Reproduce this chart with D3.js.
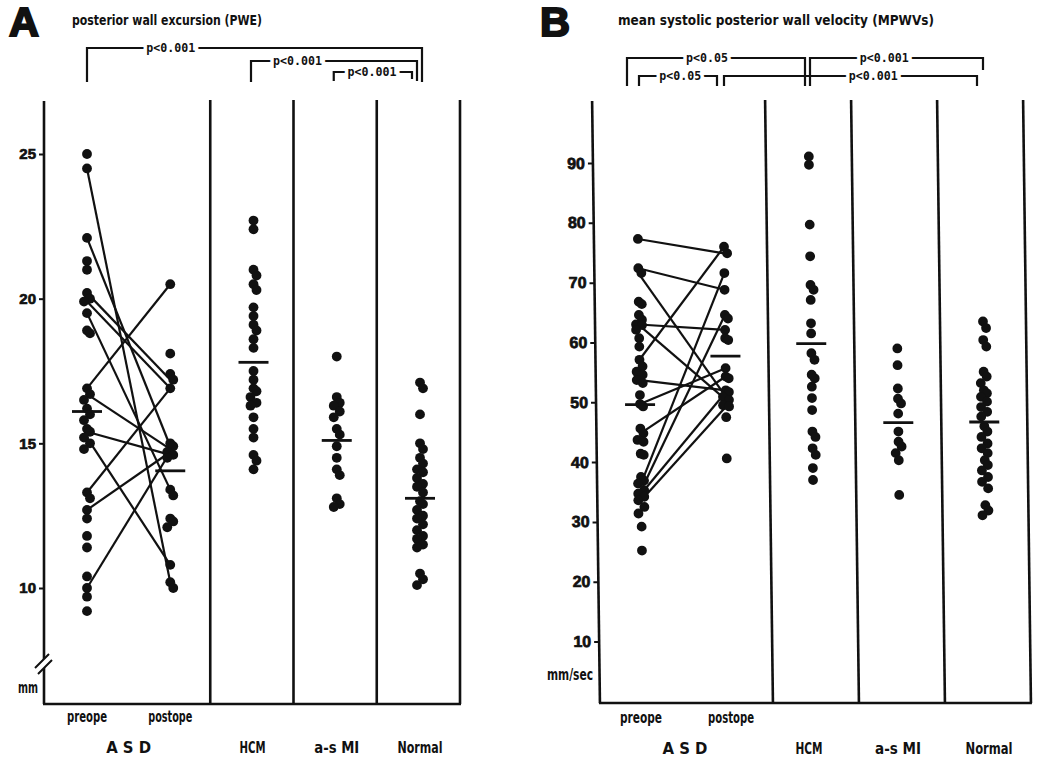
<!DOCTYPE html>
<html>
<head>
<meta charset="utf-8">
<script src="https://cdn.jsdelivr.net/npm/d3@7"></script>
<style>
  body { margin: 0; background: #fff; }
  svg { display: block; }
  .cond { font-family: "DejaVu Sans Condensed", "Liberation Sans Narrow", "DejaVu Sans", sans-serif; font-stretch: condensed; font-weight: bold; }
  .mono { font-family: "DejaVu Sans Mono", "Liberation Mono", monospace; font-weight: bold; }
  .num { font-family: "Liberation Sans", Arial, sans-serif; font-weight: bold; }
</style>
</head>
<body>
<svg id="fig" width="1038" height="757"></svg>
<script>
const groups = ["preope", "postope", "HCM", "a-s MI", "Normal"];

// A: posterior wall excursion (mm)
const pweTicks = [10, 15, 20, 25];
const pwePreope = [25.0, 24.5, 22.1, 21.3, 21.0, 20.2, 20.0, 19.9, 19.5, 18.9, 18.8, 16.9, 16.7, 16.5, 16.2, 16.0,
  15.8, 15.5, 15.4, 15.2, 15.0, 14.8, 13.3, 13.1, 12.7, 12.4, 11.8, 11.4, 10.4, 10.0, 9.7, 9.2];
const pwePostope = [20.5, 18.1, 17.4, 17.2, 16.9, 15.0, 14.9, 14.7, 14.6, 14.5, 13.4, 13.2, 12.4, 12.3, 12.1, 10.8, 10.2, 10.0];
const pweHCM = [22.7, 22.4, 21.0, 20.8, 20.5, 20.3, 19.7, 19.4, 19.1, 18.9, 18.6, 18.3, 17.5, 17.2, 16.9, 16.8,
  16.6, 16.4, 16.3, 15.9, 15.5, 15.2, 14.6, 14.4, 14.1];
const pweMI = [18.0, 16.6, 16.4, 16.3, 16.1, 15.9, 15.5, 15.3, 14.9, 14.5, 14.1, 13.9, 13.1, 12.9, 12.8];
const pweNormal = [17.1, 16.9, 16.0, 15.0, 14.8, 14.5, 14.3, 14.1, 14.0, 13.8, 13.6, 13.5, 13.3, 13.0, 12.9, 12.7,
  12.5, 12.4, 12.2, 12.0, 11.8, 11.7, 11.5, 11.4, 10.5, 10.3, 10.1];
const pweMeans = [16.1, 14.05, 17.8, 15.1, 13.1];
const pwePairs = [[24.5, 10.2], [22.1, 14.9], [20.2, 17.2], [19.9, 16.9], [19.5, 13.4], [16.9, 20.5],
  [16.7, 14.8], [15.4, 14.6], [15.2, 10.8], [13.3, 16.9], [12.7, 14.7], [10.0, 14.7]];

// B: mean systolic posterior wall velocity (mm/sec)
const mpwTicks = [10, 20, 30, 40, 50, 60, 70, 80, 90];
const mpwPreope = [77.3, 72.4, 71.6, 66.8, 66.4, 64.6, 63.8, 63.0, 62.9, 62.1, 60.7, 59.3, 57.1, 56.0, 55.1, 54.6,
  53.7, 53.2, 51.2, 49.7, 49.3, 45.6, 44.8, 43.7, 43.4, 41.4, 41.2, 37.5, 36.9, 36.4, 35.3, 34.7, 34.2, 33.6,
  32.5, 31.4, 29.2, 25.2];
const mpwPostope = [76.0, 74.9, 71.6, 68.8, 64.6, 64.0, 62.1, 60.7, 60.4, 55.7, 54.3, 54.0, 52.0, 51.7, 50.9,
  50.4, 49.5, 49.3, 47.5, 40.6];
const mpwHCM = [91.1, 89.7, 79.7, 74.4, 69.6, 68.8, 67.1, 63.2, 61.5, 58.2, 57.1, 54.6, 54.0, 52.6, 50.7, 48.7,
  45.1, 44.2, 42.3, 41.2, 39.0, 37.0];
const mpwMI = [59.0, 56.2, 52.3, 50.6, 49.8, 48.1, 45.1, 43.4, 42.6, 41.5, 40.3, 34.5];
const mpwNormal = [63.5, 62.4, 60.4, 59.3, 55.1, 54.3, 53.2, 52.0, 51.5, 50.9, 50.1, 49.2, 48.4, 47.6, 46.0,
  45.1, 44.2, 43.1, 42.3, 41.5, 40.3, 39.5, 38.6, 37.5, 36.7, 35.6, 32.8, 31.9, 31.1];
const mpwMeans = [49.6, 57.7, 59.8, 46.6, 46.7];
const mpwPairs = [[77.3, 74.9], [72.4, 68.8], [71.6, 50.9], [63.0, 62.1], [62.9, 50.4], [57.1, 76.0],
  [53.7, 52.0], [49.7, 55.7], [44.8, 54.3], [36.4, 71.6], [35.3, 64.6], [34.7, 51.7], [33.6, 49.3]];

const ink = "#111";
const svg = d3.select("#fig");

// small sideways shift for dots that sit on top of each other
function dodge(vals, y) {
  const out = [];
  let prevY = -1e9, k = 0;
  vals.slice().sort((a, b) => b - a).forEach(v => {
    const yy = y(v);
    k = (yy - prevY < 7) ? k + 1 : 0;
    out.push({ y: yy, dx: k === 0 ? 0 : (k % 2 ? 3 : -3) });
    prevY = yy;
  });
  return out;
}

function txt(g, s, x, y, cls, size, len, anchor = "middle") {
  const t = g.append("text").attr("class", cls).attr("x", x).attr("y", y)
    .attr("font-size", size).attr("text-anchor", anchor).attr("fill", ink).text(s);
  if (len) t.attr("textLength", len).attr("lengthAdjust", "spacingAndGlyphs");
  return t;
}

function drawPanel(g, p) {
  const { x, y } = p;
  // frame
  g.append("line").attr("x1", p.axisX).attr("x2", p.axisX).attr("y1", 101).attr("y2", p.baseY)
    .attr("stroke", ink).attr("stroke-width", 2.6);
  g.append("g").selectAll("line").data(groups.slice(1)).join("line")
    .attr("x1", d => x(d) + p.divOff).attr("x2", d => x(d) + p.divOff)
    .attr("y1", 100).attr("y2", p.baseY)
    .attr("stroke", ink).attr("stroke-width", 2.6);
  g.append("line").attr("x1", p.axisX - 1).attr("x2", x("Normal") + p.divOff + 1)
    .attr("y1", p.baseY).attr("y2", p.baseY).attr("stroke", ink).attr("stroke-width", 2.6);

  // ticks
  const ax = g.append("g").attr("transform", `translate(${p.axisX},0)`)
    .call(d3.axisLeft(y).tickValues(p.ticks).tickSize(5).tickPadding(3));
  ax.select(".domain").remove();
  ax.selectAll("line").attr("stroke", ink).attr("stroke-width", 2);
  ax.selectAll("text").attr("class", "num").attr("font-size", p.tickFont).attr("fill", ink)
    .attr("stroke", ink).attr("stroke-width", 0.7);

  // paired pre/post lines
  g.append("g").selectAll("line").data(p.pairs).join("line")
    .attr("x1", x("preope")).attr("y1", d => y(d[0]))
    .attr("x2", x("postope")).attr("y2", d => y(d[1]))
    .attr("stroke", ink).attr("stroke-width", 2.2);

  // dots
  p.columns.forEach((vals, i) => {
    const cx = x(groups[i]);
    g.append("g").selectAll("circle").data(dodge(vals, y)).join("circle")
      .attr("cx", d => cx + d.dx).attr("cy", d => d.y).attr("r", 4.9).attr("fill", ink);
  });

  // mean bars
  g.append("g").selectAll("line").data(p.means).join("line")
    .attr("x1", (d, i) => x(groups[i]) - 15).attr("x2", (d, i) => x(groups[i]) + 15)
    .attr("y1", d => y(d)).attr("y2", d => y(d))
    .attr("stroke", ink).attr("stroke-width", 2.8);
}

function drawBrackets(g, x, list) {
  list.forEach(b => {
    const x1 = x(b.a) + b.da, x2 = x(b.b) + b.db;
    g.append("path")
      .attr("d", `M${x1},${b.downL}V${b.top}H${x2}V${b.downR}`)
      .attr("fill", "none").attr("stroke", ink).attr("stroke-width", 2.2);
    txt(g, b.label, x1 + (x2 - x1) * b.at, b.top + 4, "mono", 11.5, b.label.length * 7)
      .attr("stroke", "#fff").attr("stroke-width", 7).attr("paint-order", "stroke");
  });
}

// ---------- panel A ----------
const xA = d3.scalePoint().domain(groups).range([87, 420]);
const yA = d3.scaleLinear().domain([10, 25]).range([588, 154]);
const gA = svg.append("g");

drawPanel(gA, {
  x: xA, y: yA, axisX: xA("preope") - 43, divOff: 40, baseY: 704,
  ticks: pweTicks, tickFont: 15, pairs: pwePairs, means: pweMeans,
  columns: [pwePreope, pwePostope, pweHCM, pweMI, pweNormal]
});

// axis break
gA.append("path").attr("d", "M35,668 L49,654 L53,659 L39,673 Z").attr("fill", "#fff");
gA.append("path").attr("d", "M35,668 L49,654 M38,674 L52,660")
  .attr("stroke", ink).attr("stroke-width", 2).attr("fill", "none");

drawBrackets(gA, xA, [
  { a: "preope", da: 0, b: "Normal", db: 2, top: 48, downL: 82, downR: 82, label: "p<0.001", at: 0.25 },
  { a: "HCM", da: -2.5, b: "Normal", db: -3, top: 61, downL: 82, downR: 81, label: "p<0.001", at: 0.28 },
  { a: "a-s MI", da: -3, b: "Normal", db: -8, top: 72, downL: 81, downR: 79, label: "p<0.001", at: 0.49 }
]);

txt(gA, "A", 9, 36, "num", 40, 30, "start").attr("stroke", ink).attr("stroke-width", 2);
txt(gA, "posterior wall excursion (PWE)", 72, 25, "cond", 14, 190, "start");
txt(gA, "mm", 28, 693, "cond", 16, 20);
txt(gA, "preope", xA("preope"), 722, "cond", 16, 40);
txt(gA, "postope", xA("postope"), 722, "cond", 16, 44);
txt(gA, "A S D", (xA("preope") + xA("postope")) / 2, 753, "cond", 16, 45);
txt(gA, "HCM", xA("HCM") - 1, 753, "cond", 16, 26);
txt(gA, "a-s MI", xA("a-s MI"), 753, "cond", 16, 45);
txt(gA, "Normal", xA("Normal"), 753, "cond", 16, 45);

// ---------- panel B ----------
const xB = d3.scalePoint().domain(groups).range([640, 984]);
const yB = d3.scaleLinear().domain([10, 90]).range([641.5, 163]);
const tilt = 0.013; // the scanned panel leans slightly
const gB = svg.append("g")
  .attr("transform", `translate(${-tilt * 400},0) skewX(${Math.atan(tilt) * 180 / Math.PI})`);

drawPanel(gB, {
  x: xB, y: yB, axisX: xB("preope") - 44, divOff: 43, baseY: 703,
  ticks: mpwTicks, tickFont: 16, pairs: mpwPairs, means: mpwMeans,
  columns: [mpwPreope, mpwPostope, mpwHCM, mpwMI, mpwNormal]
});

const gB2 = svg.append("g");
drawBrackets(gB2, xB, [
  { a: "preope", da: -13, b: "HCM", db: -7, top: 58, downL: 86, downR: 86, label: "p<0.05", at: 0.45 },
  { a: "preope", da: -1, b: "postope", db: -9, top: 76, downL: 86, downR: 86, label: "p<0.05", at: 0.53 },
  { a: "postope", da: -2, b: "Normal", db: -7, top: 76, downL: 86, downR: 86, label: "p<0.001", at: 0.59 },
  { a: "HCM", da: -2, b: "Normal", db: -1, top: 58, downL: 86, downR: 70, label: "p<0.001", at: 0.43 }
]);

txt(gB2, "B", 540, 36, "num", 40, 30, "start").attr("stroke", ink).attr("stroke-width", 2);
txt(gB2, "mean systolic posterior wall velocity (MPWVs)", 618, 25, "cond", 14, 316, "start");
txt(gB2, "mm/sec", 570, 680, "cond", 16, 46);
txt(gB2, "preope", xB("preope") + 1, 723, "cond", 16, 42);
txt(gB2, "postope", xB("postope") + 5, 723, "cond", 16, 46);
txt(gB2, "A S D", (xB("preope") + xB("postope")) / 2 + 2, 754, "cond", 16, 45);
txt(gB2, "HCM", xB("HCM") - 3, 754, "cond", 16, 27);
txt(gB2, "a-s MI", xB("a-s MI"), 754, "cond", 16, 46);
txt(gB2, "Normal", xB("Normal") + 5, 754, "cond", 16, 47);
</script>
</body>
</html>
